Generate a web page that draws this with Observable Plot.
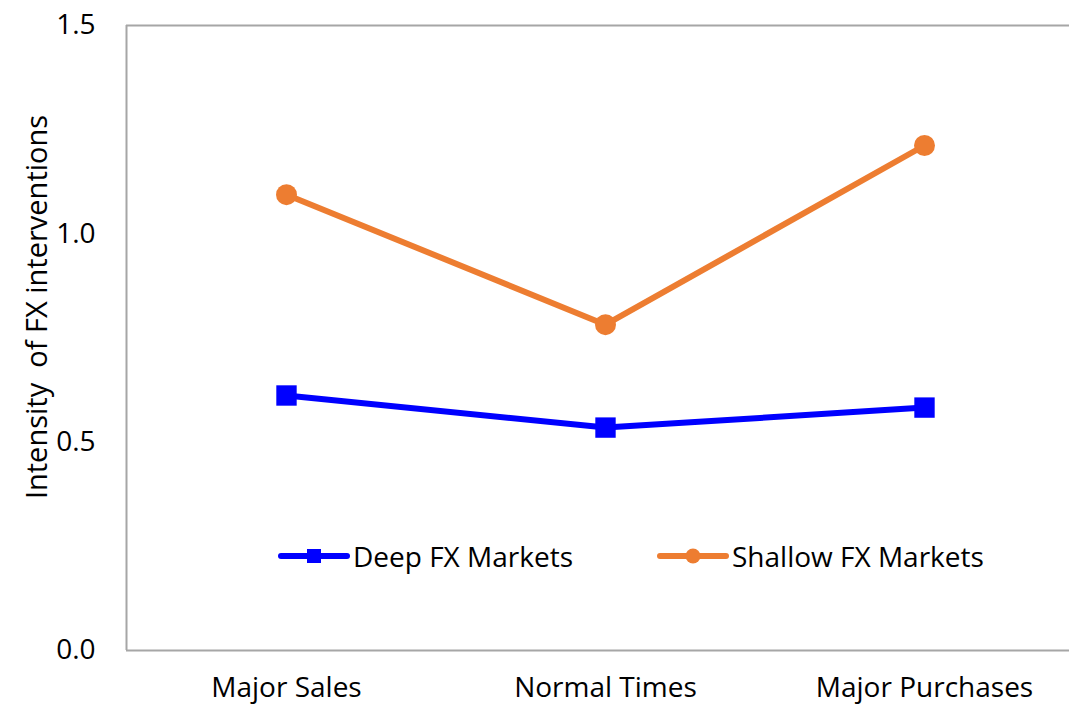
<!DOCTYPE html>
<html>
<head>
<meta charset="utf-8">
<script src="https://cdn.jsdelivr.net/npm/d3@7"></script>
<script src="https://cdn.jsdelivr.net/npm/@observablehq/plot@0.6"></script>
<style>
  html, body { margin: 0; padding: 0; background: #fff; }
  #wrap { position: relative; width: 1069px; height: 707px; overflow: hidden; font-family: "Open Sans", "Noto Sans", sans-serif; }
  #ytitle { position: absolute; left: 35px; top: 307px; transform: translate(-50%, -50%) rotate(-90deg); white-space: pre; font-size: 29px; color: #000; }
  .leg { position: absolute; top: 556px; transform: translateY(-50%); display: flex; align-items: center; font-size: 28px; color: #000; white-space: nowrap; }
  .leg svg { display: block; margin-right: 3px; }
</style>
</head>
<body>
<div id="wrap"></div>
<script>
const categories = ["Major Sales", "Normal Times", "Major Purchases"];
const deepValues = [0.612, 0.535, 0.583];
const shallowValues = [1.094, 0.782, 1.212];
const seriesNames = ["Deep FX Markets", "Shallow FX Markets"];
const seriesColors = ["#0000FF", "#ED7D31"];
const yTicks = [0, 0.5, 1.0, 1.5];
const yTitle = "Intensity  of FX interventions";

const deep = categories.map((c, i) => ({cat: c, v: deepValues[i]}));
const shallow = categories.map((c, i) => ({cat: c, v: shallowValues[i]}));

const chart = Plot.plot({
  width: 1069,
  height: 707,
  marginLeft: 126,
  marginRight: -15,
  marginTop: 25,
  marginBottom: 57,
  style: {fontFamily: '"Open Sans", "Noto Sans", sans-serif', fontSize: "28px", color: "#000", background: "#fff", overflow: "visible"},
  x: {type: "point", domain: categories, padding: 0.5, tickSize: 0, tickPadding: 27, label: null},
  y: {domain: [0, 1.5], ticks: yTicks, tickFormat: d3.format(".1f"), tickSize: 0, tickPadding: 31, label: null},
  marks: [
    Plot.ruleY([0, 1.5], {stroke: "#A6A6A6", strokeWidth: 2}),
    Plot.ruleX([categories[0]], {dx: -160, y1: 0, y2: 1.5, stroke: "#A6A6A6", strokeWidth: 2}),
    Plot.line(deep, {x: "cat", y: "v", stroke: seriesColors[0], strokeWidth: 6, strokeLinecap: "round", strokeLinejoin: "round"}),
    Plot.dot(deep, {x: "cat", y: "v", symbol: "square", r: 11.5, fill: seriesColors[0], stroke: "none"}),
    Plot.line(shallow, {x: "cat", y: "v", stroke: seriesColors[1], strokeWidth: 6, strokeLinecap: "round", strokeLinejoin: "round"}),
    Plot.dot(shallow, {x: "cat", y: "v", symbol: "circle", r: 10.5, fill: seriesColors[1], stroke: "none"})
  ]
});

const wrap = document.getElementById("wrap");
chart.style.position = "absolute";
chart.style.left = "0px";
chart.style.top = "0px";
wrap.appendChild(chart);

const t = document.createElement("div");
t.id = "ytitle";
t.textContent = yTitle;
wrap.appendChild(t);

function legendItem(name, color, shape, left) {
  const d = document.createElement("div");
  d.className = "leg";
  d.style.left = left + "px";
  const marker = shape === "square"
    ? `<rect x="29" y="5" width="14" height="14" fill="${color}"/>`
    : `<circle cx="36" cy="12" r="7.5" fill="${color}"/>`;
  d.innerHTML = `<svg width="72" height="24"><line x1="3" y1="12" x2="69" y2="12" stroke="${color}" stroke-width="6" stroke-linecap="round"/>${marker}</svg><span>${name}</span>`;
  wrap.appendChild(d);
}
legendItem(seriesNames[0], seriesColors[0], "square", 278);
legendItem(seriesNames[1], seriesColors[1], "circle", 657);
</script>
</body>
</html>
